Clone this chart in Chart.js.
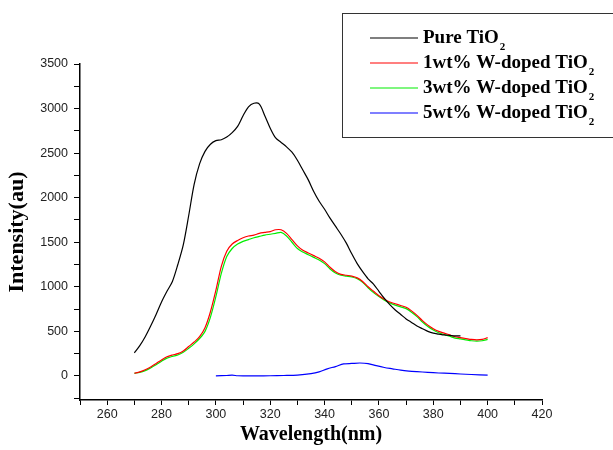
<!DOCTYPE html>
<html>
<head>
<meta charset="utf-8">
<script src="https://cdn.jsdelivr.net/npm/chart.js@4.4.1/dist/chart.umd.min.js"></script>
<style>
  html, body { margin: 0; padding: 0; background: #fff; }
  #wrap { width: 613px; height: 450px; }
</style>
</head>
<body>
<div id="wrap"><canvas id="chart" width="613" height="450"></canvas></div>
<script>
// Wavelength axes (nm)
const wlMain = [270,272,274,276,278,280,282,284,286,288,290,292,294,296,298,300,302,304,306,308,310,312,314,316,318,320,322,324,326,328,330,332,334,336,338,340,342,344,346,348,350,352,354,356,358,360,362,364,366,368,370,372,374,376,378,380,382,384,386,388,390,392,394,396,398,400];
const wlBlue = [300,304,306,308,310,315,320,325,330,335,338,341,344,347,350,353,356,359,362,365,368,371,374,378,382,386,390,394,400];

// Intensities (au)
const pureTiO2 = [260,340,440,560,690,830,950,1060,1250,1470,1800,2150,2380,2520,2600,2640,2650,2680,2730,2800,2920,3020,3060,3050,2920,2780,2670,2620,2570,2510,2420,2310,2200,2070,1960,1870,1770,1680,1590,1490,1370,1260,1170,1090,1030,950,870,800,740,690,640,600,560,530,500,480,470,460,455,450,450];
const w1 = [30,45,70,100,140,180,215,235,250,280,330,380,440,540,720,960,1230,1400,1480,1520,1550,1570,1580,1600,1610,1620,1640,1640,1600,1530,1460,1410,1380,1350,1320,1280,1220,1170,1140,1130,1120,1100,1060,1000,950,900,860,830,810,790,770,730,680,620,570,530,500,480,460,440,430,420,410,405,410,430];
const w3 = [30,40,60,90,125,165,200,220,235,265,310,360,420,500,660,890,1150,1340,1430,1480,1510,1530,1550,1565,1580,1590,1600,1610,1570,1500,1430,1390,1360,1330,1300,1260,1200,1155,1130,1120,1110,1090,1050,990,935,890,850,820,795,775,755,715,665,605,555,515,485,465,445,425,415,405,395,390,395,410];
const w5 = [0,5,8,2,0,0,2,5,10,25,45,80,105,135,140,145,138,115,95,80,65,55,48,40,33,28,22,16,10];

const seriesNames = ['Pure TiO', '1wt% W-doped TiO', '3wt% W-doped TiO', '5wt% W-doped TiO'];
const seriesColors = ['#000000', '#ff0000', '#00ee00', '#0000ff'];

// Tick positions (major ones get labels)
const xTicks = [250,260,270,280,290,300,310,320,330,340,350,360,370,380,390,400,410,420];
const xTickLabels = [260,280,300,320,340,360,380,400,420];
const yTicks = [-250,0,250,500,750,1000,1250,1500,1750,2000,2250,2500,2750,3000,3250,3500];
const yTickLabels = [0,500,1000,1500,2000,2500,3000,3500];

function toPoints(xs, ys) {
    return ys.map((y, i) => ({ x: xs[i], y: y }));
}

// Legend with subscript 2, drawn over the plot
const subLegend = {
    id: 'subLegend',
    afterDraw(chart) {
        const ctx = chart.ctx;
        ctx.save();
        ctx.strokeStyle = '#333';
        ctx.lineWidth = 1;
        ctx.strokeRect(342.5, 13.5, 300, 124);
        const rows = [38, 63, 88, 113];
        seriesNames.forEach((name, i) => {
            const y = rows[i];
            ctx.strokeStyle = seriesColors[i];
            ctx.lineWidth = 1.2;
            ctx.beginPath();
            ctx.moveTo(370, y);
            ctx.lineTo(418, y);
            ctx.stroke();
            ctx.fillStyle = '#000';
            ctx.textBaseline = 'middle';
            ctx.font = 'bold 19px "Liberation Serif"';
            ctx.fillText(name, 423, y);
            const w = ctx.measureText(name).width;
            ctx.font = 'bold 11px "Liberation Serif"';
            ctx.fillText('2', 424 + w, y + 9);
        });
        ctx.restore();
    }
};

const ctx = document.getElementById('chart').getContext('2d');
new Chart(ctx, {
    type: 'line',
    data: {
        datasets: [
            { label: seriesNames[0], data: toPoints(wlMain, pureTiO2), borderColor: seriesColors[0] },
            { label: seriesNames[1], data: toPoints(wlMain, w1), borderColor: seriesColors[1] },
            { label: seriesNames[2], data: toPoints(wlMain, w3), borderColor: seriesColors[2] },
            { label: seriesNames[3], data: toPoints(wlBlue, w5), borderColor: seriesColors[3] }
        ]
    },
    options: {
        responsive: false,
        animation: false,
        layout: { padding: { top: 64, right: 71, left: 0, bottom: 0 } },
        elements: {
            point: { radius: 0 },
            line: { borderWidth: 1.2, tension: 0.3, fill: false }
        },
        plugins: {
            legend: { display: false },
            tooltip: { enabled: false }
        },
        scales: {
            x: {
                type: 'linear',
                min: 250,
                max: 420,
                afterFit(scale) { scale.height = 50; },
                afterBuildTicks(scale) { scale.ticks = xTicks.map(v => ({ value: v })); },
                border: { color: '#000', width: 1.5 },
                grid: { drawOnChartArea: false, tickLength: 5, tickColor: '#000' },
                ticks: {
                    autoSkip: false,
                    maxRotation: 0,
                    padding: 2,
                    color: '#222',
                    font: { family: '"Liberation Sans"', size: 12.5 },
                    callback: v => xTickLabels.includes(v) ? String(v) : ''
                },
                title: {
                    display: true,
                    text: 'Wavelength(nm)',
                    color: '#000',
                    padding: { top: 4, bottom: 3 },
                    font: { family: '"Liberation Serif"', size: 20, weight: 'bold' }
                }
            },
            y: {
                type: 'linear',
                min: -270,
                max: 3500,
                afterFit(scale) { scale.width = 80; },
                afterBuildTicks(scale) { scale.ticks = yTicks.map(v => ({ value: v })); },
                border: { color: '#000', width: 1.5 },
                grid: { drawOnChartArea: false, tickLength: 6, tickColor: '#000' },
                ticks: {
                    autoSkip: false,
                    padding: 6,
                    color: '#222',
                    font: { family: '"Liberation Sans"', size: 12.5 },
                    callback: v => yTickLabels.includes(v) ? String(v) : ''
                },
                title: {
                    display: true,
                    text: 'Intensity(au)',
                    color: '#000',
                    padding: { top: 4, bottom: 0 },
                    font: { family: '"Liberation Serif"', size: 22, weight: 'bold' }
                }
            }
        }
    },
    plugins: [subLegend]
});
</script>
</body>
</html>
